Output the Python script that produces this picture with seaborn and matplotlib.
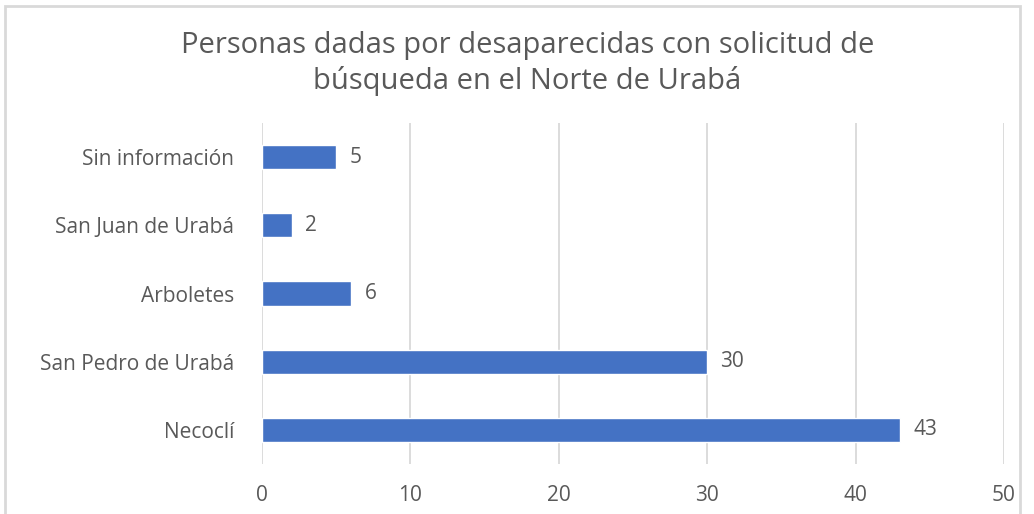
import matplotlib
matplotlib.use("Agg")
import matplotlib.pyplot as plt
import seaborn as sns
import pandas as pd
from matplotlib.patches import Rectangle

categories = ["Sin información", "San Juan de Urabá", "Arboletes", "San Pedro de Urabá", "Necoclí"]
values = [5, 2, 6, 30, 43]
ticks = [0, 10, 20, 30, 40, 50]

text_color = "#595959"
bar_color = "#4472C4"
grid_color = "#D9D9D9"

sns.set_theme(style="white")
plt.rcParams["font.family"] = ["Open Sans", "DejaVu Sans"]

df = pd.DataFrame({"municipio": categories, "personas": values})

fig = plt.figure(figsize=(10.34, 5.14), dpi=100)
ax = fig.add_axes([262 / 1034, 1 - 464 / 514, (1004 - 262) / 1034, (464 - 123) / 514])

sns.barplot(data=df, x="personas", y="municipio", color=bar_color, width=0.355,
            saturation=1, ax=ax, zorder=3)

ax.set_xlim(0, 50)
ax.set_xticks(ticks)
ax.set_xlabel("")
ax.set_ylabel("")
ax.grid(axis="x", color=grid_color, linewidth=1.3, zorder=0)
for s in ax.spines.values():
    s.set_visible(False)
ax.tick_params(axis="both", length=0, labelsize=15, colors=text_color)
ax.tick_params(axis="x", pad=15)
ax.tick_params(axis="y", pad=20)

for i, v in enumerate(values):
    ax.text(v + 0.9, i, str(v), va="center", ha="left", fontsize=15, color=text_color)

fig.text(0.51, 0.877, "Personas dadas por desaparecidas con solicitud de\nbúsqueda en el Norte de Urabá",
         ha="center", va="center", fontsize=21, color=text_color, linespacing=1.25)

fig.patches.append(Rectangle((5 / 1034, -0.1), (1020 - 5) / 1034, 1.1 - 6 / 514,
                             transform=fig.transFigure, fill=False,
                             edgecolor="#D9D9D9", linewidth=2))

fig.savefig("out.png", dpi=100)
